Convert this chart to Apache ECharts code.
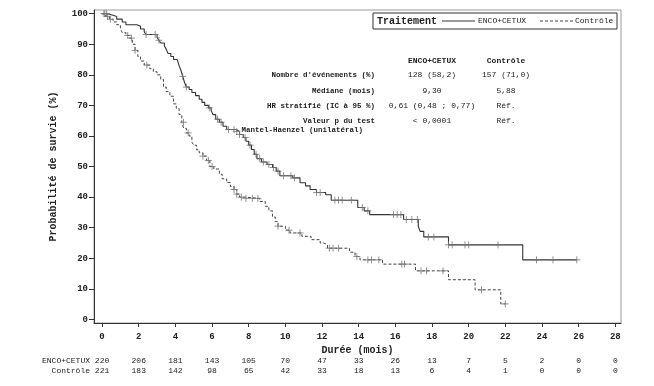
<!DOCTYPE html>
<html><head><meta charset="utf-8">
<script src="https://cdn.jsdelivr.net/npm/echarts@6/dist/echarts.min.js"></script>
<style>html,body{margin:0;padding:0;background:#fff}#c{width:654px;height:386px}</style>
</head><body><div id="c"></div>
<script>
// ---- data ----
const seriesNames = ['ENCO+CETUX', 'Contrôle'];
// Kaplan-Meier steps: [time (months), survival % after event]
const kmEnco = [[0,100],[0.3,99.5],[0.6,99.1],[0.8,98.2],[1.1,97.3],[1.3,96.4],[1.9,95.9],[2.1,95.0],[2.3,94.1],[2.4,93.2],[3.0,92.3],[3.1,91.3],[3.2,90.4],[3.4,89.4],[3.5,88.4],[3.6,87.0],[3.75,86.0],[3.9,85.0],[4.1,84.5],[4.2,83.0],[4.3,81.5],[4.4,79.5],[4.5,77.5],[4.6,76.0],[4.75,75.2],[4.9,74.2],[5.1,73.2],[5.3,72.0],[5.45,71.0],[5.6,70.0],[5.8,69.2],[5.95,68.3],[6.05,67.0],[6.2,65.5],[6.4,64.5],[6.6,63.2],[6.8,62.1],[7.3,61.5],[7.5,60.5],[7.7,59.5],[7.85,58.3],[8.0,57.0],[8.15,55.6],[8.3,54.0],[8.45,52.6],[8.7,51.5],[9.0,50.7],[9.3,49.7],[9.5,48.5],[9.7,47.0],[10.4,46.3],[10.8,44.7],[11.1,43.7],[11.35,42.5],[11.7,41.5],[12.2,40.8],[12.5,39.0],[13.95,36.6],[14.3,35.5],[14.6,34.3],[16.45,32.7],[17.25,30.5],[17.35,28.8],[17.55,27.0],[18.9,24.4],[22.95,19.5],[25.9,19.5]];
const kmCtrl = [[0,100],[0.2,99.1],[0.4,98.2],[0.6,97.3],[0.8,96.4],[1.0,95.0],[1.1,93.8],[1.3,92.9],[1.5,92.0],[1.65,90.0],[1.8,88.0],[1.95,86.0],[2.1,84.5],[2.3,83.2],[2.6,82.0],[2.8,81.0],[3.0,80.0],[3.2,78.5],[3.35,76.0],[3.5,74.5],[3.7,73.0],[3.9,70.5],[4.05,69.0],[4.2,67.0],[4.35,64.5],[4.45,62.5],[4.6,61.0],[4.75,60.0],[4.9,58.0],[5.0,57.0],[5.15,55.5],[5.3,54.5],[5.5,53.4],[5.7,52.0],[5.88,50.0],[6.1,49.2],[6.4,47.5],[6.55,46.0],[6.8,44.8],[7.0,43.5],[7.2,42.5],[7.35,41.0],[7.5,40.0],[7.8,39.6],[8.6,38.6],[8.9,37.0],[9.1,35.5],[9.3,33.5],[9.45,32.0],[9.6,30.5],[10.0,29.2],[10.25,28.3],[10.9,27.2],[11.4,26.1],[11.9,25.0],[12.1,24.4],[12.3,23.3],[13.5,22.0],[13.8,20.6],[14.07,19.5],[15.3,18.1],[17.1,15.9],[18.9,13.0],[20.35,9.7],[21.75,5.1],[22.0,5.1]];
// censoring times (months)
const censEnco = [0.1,0.25,2.4,2.9,3.1,4.4,4.6,5.85,6.3,6.5,6.9,7.2,7.35,7.5,7.8,8.07,8.4,8.6,8.8,9.1,9.35,9.6,9.9,10.3,10.5,11.7,11.9,12.7,12.9,13.1,13.6,14.2,14.5,15.9,16.1,16.3,16.6,16.9,17.2,17.8,18.1,18.9,19.1,19.8,20.0,21.6,23.7,24.6,25.9];
const censCtrl = [0.15,0.3,0.45,1.4,1.6,1.8,2.44,4.44,4.7,5.5,5.8,6.0,7.2,7.35,7.6,7.85,8.2,8.5,9.6,10.2,10.8,12.4,12.6,12.9,13.9,14.5,14.7,15.1,16.35,16.5,17.4,17.7,18.6,20.7,22.0];
const xTicks = [0,2,4,6,8,10,12,14,16,18,20,22,24,26,28];
const yTicks = [0,10,20,30,40,50,60,70,80,90,100];
const atRiskEnco = [220,206,181,143,105,70,47,33,26,13,7,5,2,0,0];
const atRiskCtrl = [221,183,142,98,65,42,33,18,13,6,4,1,0,0,0];
const statRows = ["Nombre d'événements (%)", "Médiane (mois)", "HR stratifié (IC à 95 %)", "Valeur p du test", "Mantel-Haenzel (unilatéral)"];
const statEnco = ["128 (58,2)", "9,30", "0,61 (0,48 ; 0,77)", "< 0,0001"];
const statCtrl = ["157 (71,0)", "5,88", "Réf.", "Réf."];

// ---- helpers ----
function stepAt(km, t){ let s = km[0][1]; for (const p of km){ if (p[0] <= t) s = p[1]; else break; } return s; }
const MONO = "'Liberation Mono','DejaVu Sans Mono',monospace";
const chart = echarts.init(document.getElementById('c'), null, {renderer:'canvas'});
const plus = 'path://M0,5L10,5M5,0L5,10';

chart.setOption({
  animation:false,
  backgroundColor:'#fff',
  grid:{left:94, right:33, top:10, bottom:63, show:true, borderColor:'#9a9a9a', borderWidth:1, containLabel:false},
  xAxis:{type:'value', min:-0.44, max:28.31,
    name:'Durée (mois)', nameLocation:'middle', nameGap:22,
    nameTextStyle:{fontFamily:MONO, fontSize:10, fontWeight:'bold', color:'#222'},
    axisLine:{show:true, onZero:false, lineStyle:{color:'#333', width:1}},
    axisTick:{show:true, length:4, customValues:xTicks, lineStyle:{color:'#333'}},
    axisLabel:{customValues:xTicks, margin:9, fontFamily:MONO, fontSize:9, fontWeight:'bold', color:'#222'},
    splitLine:{show:false}},
  yAxis:{type:'value', min:-1.15, max:101.2,
    name:'Probabilité de survie (%)', nameLocation:'middle', nameGap:36,
    nameTextStyle:{fontFamily:MONO, fontSize:10, fontWeight:'bold', color:'#222'},
    axisLine:{show:true, onZero:false, lineStyle:{color:'#333', width:1}},
    axisTick:{show:true, length:5, customValues:yTicks, lineStyle:{color:'#333'}},
    axisLabel:{customValues:yTicks, margin:6, fontFamily:MONO, fontSize:9, fontWeight:'bold', color:'#222'},
    splitLine:{show:false}},
  series:[
    {name:seriesNames[0], type:'line', step:'end', data:kmEnco, showSymbol:false, lineStyle:{color:'#333', width:1.1}, z:3},
    {name:seriesNames[1], type:'line', step:'end', data:kmCtrl, showSymbol:false, lineStyle:{color:'#444', width:1, type:[3,2]}, z:3},
    {type:'scatter', data:censEnco.map(t=>[t, stepAt(kmEnco,t)]), symbol:plus, symbolSize:7, itemStyle:{color:'none', borderColor:'#777', borderWidth:1}, z:4},
    {type:'scatter', data:censCtrl.map(t=>[t, stepAt(kmCtrl,t)]), symbol:plus, symbolSize:7, itemStyle:{color:'none', borderColor:'#777', borderWidth:1}, z:4}
  ]
});

// ---- annotations ----
const g = [];
function txt(x,y,s,opt){ g.push({type:'text', x:x, y:y, style:Object.assign({text:s, fontFamily:MONO, fontSize:8, fill:'#222', textAlign:'left', textVerticalAlign:'middle'}, opt||{}), z:10}); }
// legend box
g.push({type:'rect', shape:{x:373, y:13, width:244, height:16}, style:{fill:'#fff', stroke:'#333', lineWidth:1}, z:9});
txt(377, 21, 'Traitement', {fontSize:10, fontWeight:'bold'});
g.push({type:'line', shape:{x1:442, y1:21, x2:475, y2:21}, style:{stroke:'#333', lineWidth:1}, z:10});
txt(478, 21, seriesNames[0], {fontSize:8});
g.push({type:'line', shape:{x1:540, y1:21, x2:573, y2:21}, style:{stroke:'#444', lineWidth:1, lineDash:[3,2]}, z:10});
txt(575, 21, seriesNames[1], {fontSize:8});
// stats table
const c1 = 432, c2 = 506, rEnd = 375;
txt(c1, 61, seriesNames[0], {textAlign:'center', fontWeight:'bold'});
txt(c2, 61, seriesNames[1], {textAlign:'center', fontWeight:'bold'});
const rowY = [75, 91, 106, 121];
for (let i=0;i<4;i++){
  txt(rEnd, rowY[i], statRows[i], {textAlign:'right', fontWeight:'bold', fontSize:7.5});
  txt(c1, rowY[i], statEnco[i], {textAlign:'center'});
  txt(c2, rowY[i], statCtrl[i], {textAlign:'center'});
}
txt(363, 130, statRows[4], {textAlign:'right', fontWeight:'bold', fontSize:7.5});
// at-risk table
txt(90, 361, seriesNames[0], {textAlign:'right'});
txt(90, 371, seriesNames[1], {textAlign:'right'});
xTicks.forEach((t,i)=>{
  const px = chart.convertToPixel({gridIndex:0}, [t, 0])[0];
  txt(px, 361, String(atRiskEnco[i]), {textAlign:'center'});
  txt(px, 371, String(atRiskCtrl[i]), {textAlign:'center'});
});
chart.setOption({graphic:g});
</script></body></html>
